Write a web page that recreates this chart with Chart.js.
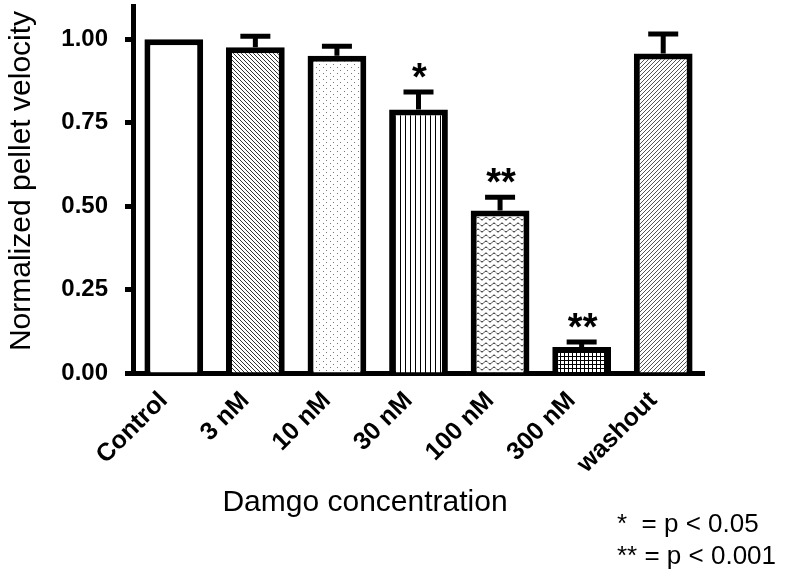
<!DOCTYPE html>
<html>
<head>
<meta charset="utf-8">
<script src="https://cdn.jsdelivr.net/npm/chart.js@4/dist/chart.umd.min.js"></script>
<style>
  html, body { margin: 0; padding: 0; background: #fff; }
  #wrap { width: 788px; height: 577px; }
</style>
</head>
<body>
<div id="wrap"><canvas id="velChart" width="788" height="577"></canvas></div>
<script>
// data
var categories = ['Control', '3 nM', '10 nM', '30 nM', '100 nM', '300 nM', 'washout'];
var velocity = [1.00, 0.976, 0.951, 0.790, 0.487, 0.078, 0.958];
var semUpper = [0.000, 0.033, 0.028, 0.052, 0.040, 0.015, 0.058];
var significance = ['', '', '', '*', '**', '**', ''];
var yTickValues = [0, 0.25, 0.5, 0.75, 1.0];
var legendLines = ['*  = p < 0.05', '** = p < 0.001'];

// little tiles for the hatch fills
function makePattern(w, h, draw) {
    var c = document.createElement('canvas');
    c.width = w; c.height = h;
    var g = c.getContext('2d');
    g.fillStyle = '#fff';
    g.fillRect(0, 0, w, h);
    draw(g);
    return document.getElementById('velChart').getContext('2d').createPattern(c, 'repeat');
}

var fills = [
    '#ffffff',
    makePattern(4, 4, function (g) {          // back diagonal
        g.fillStyle = '#333';
        for (var i = 0; i < 4; i++) g.fillRect(i, i, 1, 1);
    }),
    makePattern(7, 6, function (g) {          // dots
        g.fillStyle = '#777';
        g.fillRect(1, 1, 1, 1);
        g.fillRect(4, 4, 1, 1);
    }),
    makePattern(5, 2, function (g) {          // vertical lines
        g.fillStyle = '#000';
        g.fillRect(0, 0, 1, 2);
    }),
    makePattern(8, 6, function (g) {          // waves
        g.strokeStyle = '#222';
        g.lineWidth = 1;
        g.beginPath();
        for (var x = 0; x <= 8; x++) {
            var y = 2.5 + 1.5 * Math.sin(x / 8 * Math.PI * 2);
            if (x === 0) g.moveTo(x, y); else g.lineTo(x, y);
        }
        g.stroke();
    }),
    makePattern(4, 4, function (g) {          // grid
        g.fillStyle = '#000';
        g.fillRect(0, 0, 4, 1);
        g.fillRect(0, 0, 1, 4);
    }),
    makePattern(4, 4, function (g) {          // forward diagonal
        g.fillStyle = '#555';
        for (var i = 0; i < 4; i++) g.fillRect(3 - i, i, 1, 1);
    })
];

// error bars, stars and free text
var extrasPlugin = {
    id: 'extras',
    afterDatasetsDraw: function (chart) {
        var ctx = chart.ctx;
        var yScale = chart.scales.y;
        var bars = chart.getDatasetMeta(0).data;
        ctx.save();
        ctx.strokeStyle = '#000';
        ctx.fillStyle = '#000';
        ctx.lineWidth = 5;
        bars.forEach(function (bar, i) {
            var yVal = yScale.getPixelForValue(velocity[i]);
            var yErr = yScale.getPixelForValue(velocity[i] + semUpper[i]);
            if (semUpper[i] > 0) {
                ctx.beginPath();
                ctx.moveTo(bar.x, yVal);
                ctx.lineTo(bar.x, yErr);
                ctx.moveTo(bar.x - 15, yErr);
                ctx.lineTo(bar.x + 15, yErr);
                ctx.stroke();
            }
            if (significance[i]) {
                ctx.font = 'bold 38px "Liberation Sans", Arial, sans-serif';
                ctx.textAlign = 'center';
                ctx.textBaseline = 'alphabetic';
                ctx.fillText(significance[i], bar.x + 1, yErr - 2);
            }
        });
        ctx.restore();
    },
    afterDraw: function (chart) {
        var ctx = chart.ctx;
        ctx.save();
        ctx.fillStyle = '#000';
        ctx.textBaseline = 'middle';
        ctx.font = '30px "Liberation Sans", Arial, sans-serif';
        ctx.textAlign = 'center';
        ctx.fillText('Damgo concentration', 365, 503);
        ctx.translate(22, 181);
        ctx.rotate(-Math.PI / 2);
        ctx.fillText('Normalized pellet velocity', 0, 0);
        ctx.setTransform(1, 0, 0, 1, 0, 0);
        ctx.font = '26px "Liberation Sans", Arial, sans-serif';
        ctx.textAlign = 'left';
        ctx.fillText(legendLines[0], 617, 525);
        ctx.fillText(legendLines[1], 617, 557);
        ctx.restore();
    }
};

var ctx = document.getElementById('velChart').getContext('2d');
var velChart = new Chart(ctx, {
    type: 'bar',
    data: {
        labels: categories,
        datasets: [{
            data: velocity,
            backgroundColor: fills,
            borderColor: '#000',
            borderWidth: 6,
            barPercentage: 0.72,
            categoryPercentage: 1.0
        }]
    },
    plugins: [extrasPlugin],
    options: {
        responsive: false,
        animation: false,
        devicePixelRatio: 1,
        layout: { padding: { top: 6, right: 84, left: 0, bottom: 0 } },
        plugins: {
            legend: { display: false },
            tooltip: { enabled: false }
        },
        scales: {
            x: {
                grid: { display: false, drawTicks: true, tickLength: 4 },
                border: { display: true, color: '#000', width: 5 },
                ticks: {
                    color: '#000',
                    font: { family: '"Liberation Sans", Arial, sans-serif', size: 25, weight: 'bold' },
                    minRotation: 45,
                    maxRotation: 45,
                    labelOffset: -10,
                    padding: 9
                },
                afterFit: function (scale) {
                    scale.height = 204;
                    scale.paddingLeft = 0;
                    scale.paddingRight = 0;
                }
            },
            y: {
                min: 0,
                max: 1.1,
                grid: { drawOnChartArea: false, drawTicks: true, tickLength: 8, tickWidth: 5, tickColor: '#000' },
                border: { display: true, color: '#000', width: 5 },
                ticks: {
                    color: '#000',
                    padding: 17,
                    font: { family: '"Liberation Sans", Arial, sans-serif', size: 24, weight: 'bold' },
                    callback: function (v) { return Number(v).toFixed(2); }
                },
                afterBuildTicks: function (scale) {
                    scale.ticks = yTickValues.map(function (v) { return { value: v }; });
                },
                afterFit: function (scale) {
                    scale.width = 133;
                    scale.paddingTop = 0;
                    scale.paddingBottom = 0;
                }
            }
        }
    }
});
</script>
</body>
</html>
